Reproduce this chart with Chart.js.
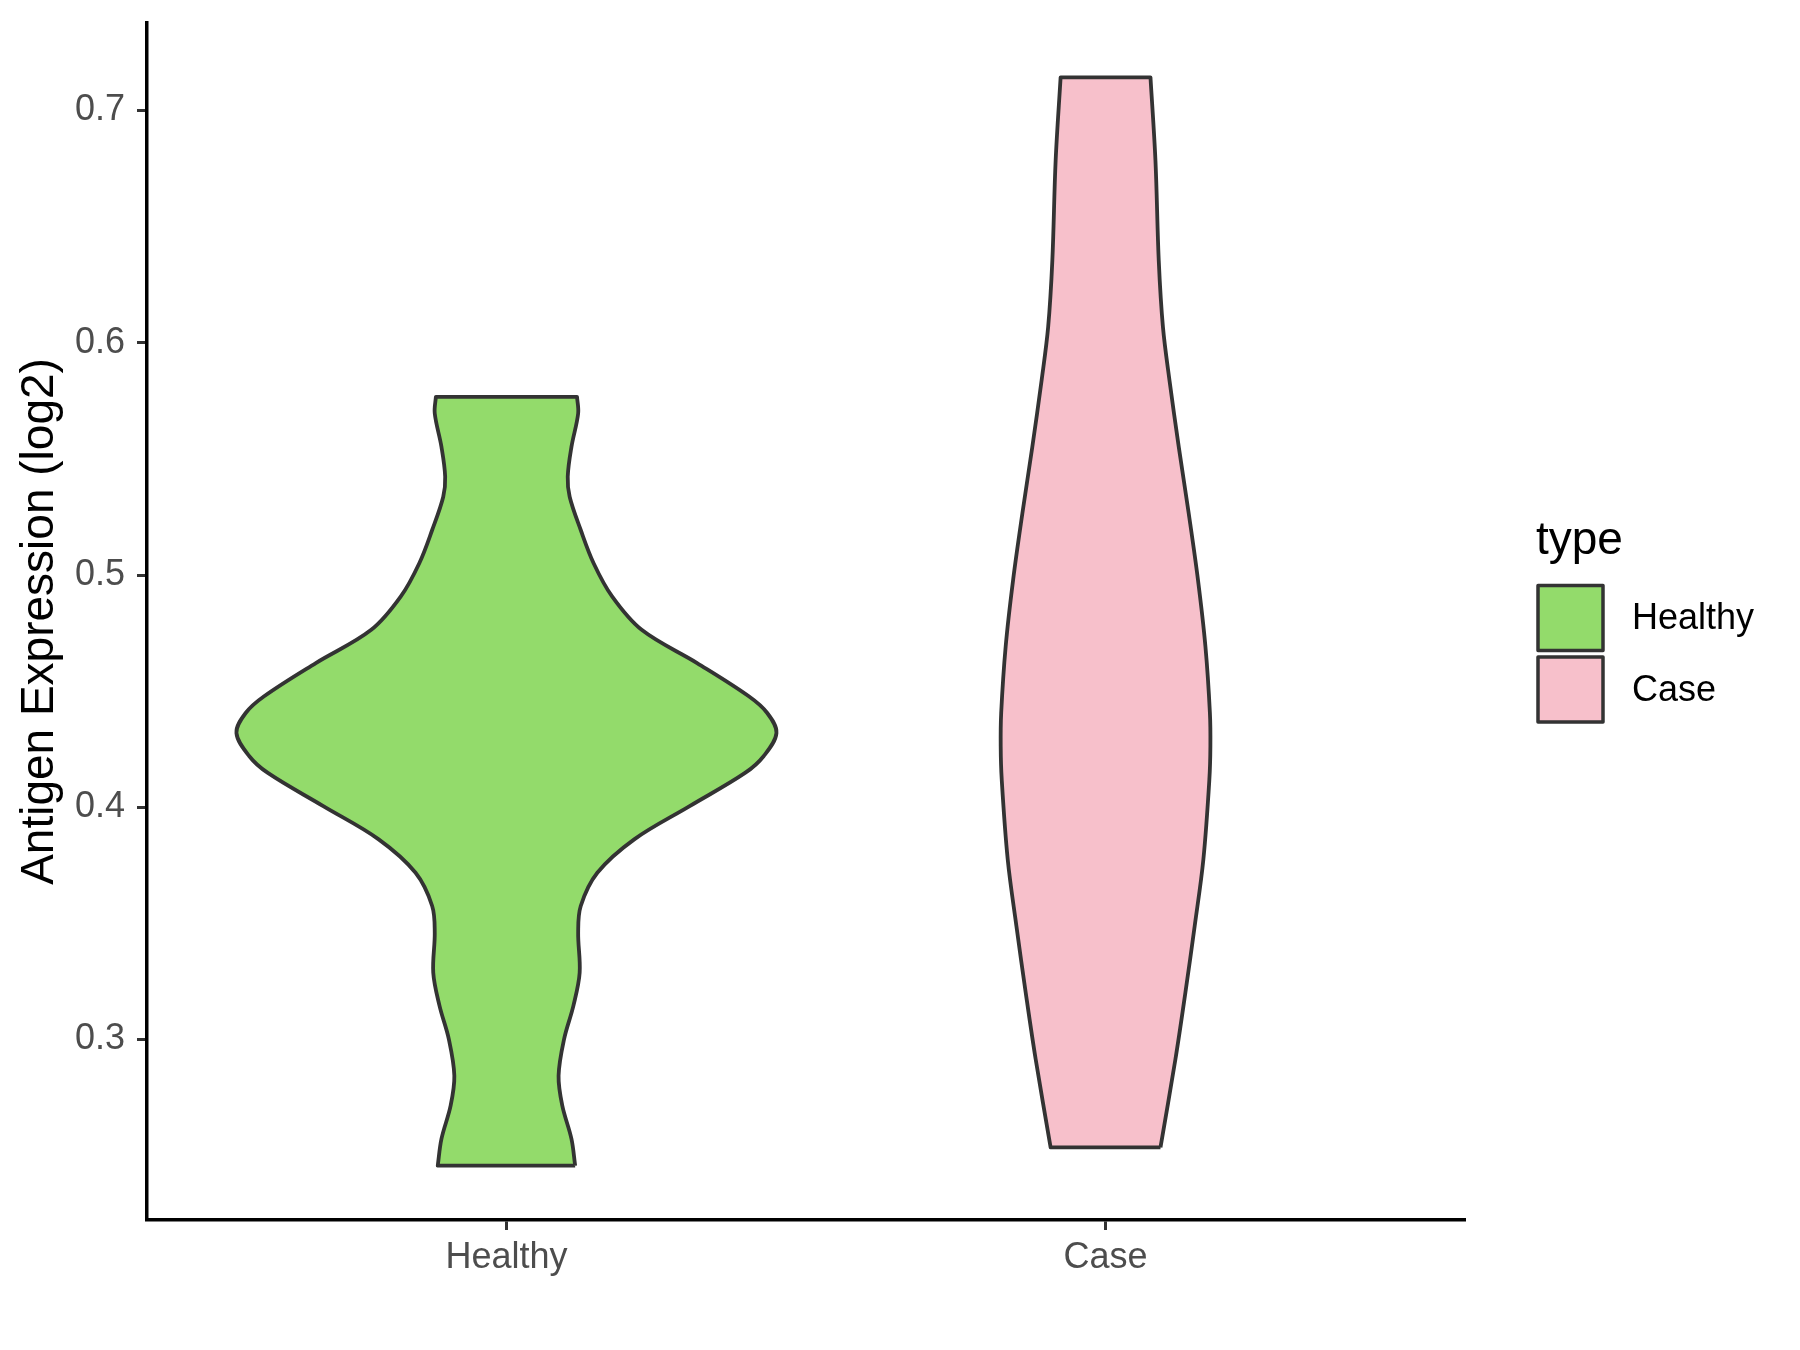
<!DOCTYPE html>
<html>
<head>
<meta charset="utf-8">
<title>Antigen Expression</title>
<script src="https://cdn.jsdelivr.net/npm/chart.js@4.4.1/dist/chart.umd.min.js"></script>
<style>
	html, body { margin: 0; padding: 0; background: #ffffff; }
	#wrap { width: 1800px; height: 1350px; }
</style>
</head>
<body>
<div id="wrap"><canvas id="violin" width="1800" height="1350"></canvas></div>
<script>
// groups on the x axis
const categories = ["Healthy", "Case"];
const categoryPositions = [1, 2];
const fillColors = ["#93DB6B", "#F7C0CB"];

// violin outlines: value (log2) and half width (x units)
const healthyValues = [0.2457, 0.2572, 0.2715, 0.2844, 0.3002, 0.3145, 0.3288, 0.3460, 0.3575, 0.3718, 0.3862, 0.4005, 0.4148, 0.4220, 0.4320, 0.4406, 0.4478, 0.4621, 0.4764, 0.4908, 0.5051, 0.5194, 0.5337, 0.5424, 0.5552, 0.5696, 0.5767];
const healthyHalfWidth = [0.1147, 0.1085, 0.0932, 0.0870, 0.0962, 0.1117, 0.1222, 0.1197, 0.1240, 0.1517, 0.2133, 0.3058, 0.3983, 0.4292, 0.4507, 0.4353, 0.4045, 0.3182, 0.2257, 0.1763, 0.1455, 0.1240, 0.1055, 0.1023, 0.1085, 0.1197, 0.1178];

const caseValues = [0.2536, 0.2916, 0.3203, 0.3489, 0.3776, 0.4120, 0.4263, 0.4406, 0.4693, 0.4979, 0.5266, 0.5552, 0.5839, 0.6068, 0.6355, 0.6785, 0.7143];
const caseHalfWidth = [0.0917, 0.1167, 0.1333, 0.1488, 0.1633, 0.1733, 0.1750, 0.1742, 0.1667, 0.1543, 0.1388, 0.1222, 0.1067, 0.0958, 0.0888, 0.0833, 0.0750];

const yTicks = [0.3, 0.4, 0.5, 0.6, 0.7];
const yMin = 0.2223;
const yMax = 0.7377;

Chart.defaults.font.family = '"Liberation Sans", Arial, sans-serif';

// closed outline: right side going up, left side coming down.
// end corners are doubled so the curve tension keeps the flat ends square
function violinOutline(center, values, halves) {
	const right = values.map((v, i) => ({ x: center + halves[i], y: v }));
	const left = values.map((v, i) => ({ x: center - halves[i], y: v })).reverse();
	const n = right.length;
	return [right[0], ...right, right[n - 1], left[0], ...left, left[n - 1], right[0]];
}

const outlines = [
	violinOutline(categoryPositions[0], healthyValues, healthyHalfWidth),
	violinOutline(categoryPositions[1], caseValues, caseHalfWidth)
];

// legend drawn to the right of the panel, ggplot style
const typeLegend = {
	id: "typeLegend",
	afterDraw(chart) {
		const { ctx, chartArea } = chart;
		const mid = (chartArea.top + chartArea.bottom) / 2;
		const x0 = chartArea.right + 71;
		ctx.save();
		ctx.fillStyle = "#000000";
		ctx.textAlign = "left";
		ctx.textBaseline = "alphabetic";
		ctx.font = '46px "Liberation Sans", Arial, sans-serif';
		ctx.fillText("type", x0, mid - 68);
		ctx.font = '36px "Liberation Sans", Arial, sans-serif';
		ctx.textBaseline = "middle";
		ctx.lineWidth = 3.5;
		ctx.lineJoin = "round";
		chart.data.datasets.forEach((ds, i) => {
			const top = mid - 36 + i * 71.5;
			ctx.fillStyle = ds.backgroundColor;
			ctx.fillRect(x0 + 2, top, 65, 65);
			ctx.strokeStyle = ds.borderColor;
			ctx.strokeRect(x0 + 2, top, 65, 65);
			ctx.fillStyle = "#000000";
			ctx.fillText(ds.label, x0 + 96, top + 34);
		});
		ctx.restore();
	}
};

// keep the panel edges where the reference has them
function noEdgePadding(s) {
	s.paddingTop = 0;
	s.paddingBottom = 0;
	s.paddingLeft = 0;
	s.paddingRight = 0;
}

const ctx = document.getElementById("violin").getContext("2d");
const config = {
	type: "scatter",
	data: {
		datasets: categories.map((name, i) => ({
			label: name,
			data: outlines[i],
			showLine: true,
			fill: "shape",
			backgroundColor: fillColors[i],
			borderColor: "#333333",
			borderWidth: 3.8,
			borderJoinStyle: "round",
			tension: 0.35,
			pointRadius: 0,
			pointHoverRadius: 0
		}))
	},
	options: {
		responsive: false,
		animation: false,
		devicePixelRatio: 1,
		layout: { padding: { top: 23, right: 335, bottom: 0, left: 0 } },
		plugins: {
			legend: { display: false },
			tooltip: { enabled: false }
		},
		scales: {
			x: {
				type: "linear",
				min: 0.4,
				max: 2.6,
				afterBuildTicks: (s) => { s.ticks = categoryPositions.map((v) => ({ value: v })); },
				afterFit: (s) => { s.height = 130; noEdgePadding(s); },
				ticks: {
					callback: (v, i) => categories[i],
					color: "#4D4D4D",
					font: { size: 36 },
					padding: 6,
					maxRotation: 0,
					autoSkip: false
				},
				grid: { drawOnChartArea: false, drawTicks: true, tickLength: 10, tickColor: "#333333", tickWidth: 3 },
				border: { display: true, color: "#000000", width: 3.5 }
			},
			y: {
				min: yMin,
				max: yMax,
				afterBuildTicks: (s) => { s.ticks = yTicks.map((v) => ({ value: v })); },
				afterFit: (s) => { s.width = 147; noEdgePadding(s); },
				ticks: {
					callback: (v) => v.toFixed(1),
					color: "#4D4D4D",
					font: { size: 36 },
					padding: 12
				},
				title: {
					display: true,
					text: "Antigen Expression (log2)",
					color: "#000000",
					font: { size: 46 },
					padding: { top: 13, bottom: 0 }
				},
				grid: { drawOnChartArea: false, drawTicks: true, tickLength: 10, tickColor: "#333333", tickWidth: 3 },
				border: { display: true, color: "#000000", width: 3.5 }
			}
		}
	},
	plugins: [typeLegend]
};

const violinChart = new Chart(ctx, config);
</script>
</body>
</html>
